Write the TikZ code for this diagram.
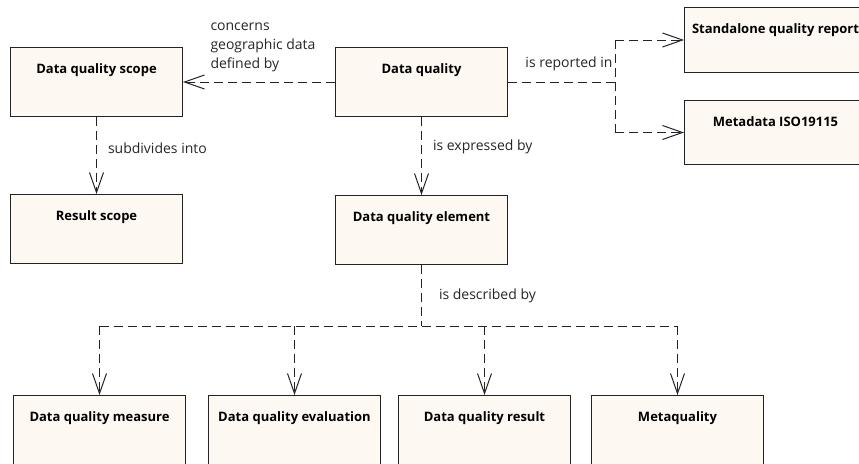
\documentclass[tikz,border=0pt]{standalone}
\usepackage{fontspec}
\setmainfont{Open Sans}
\usepackage{tikz}
\usepackage{xcolor}
\usetikzlibrary{positioning, arrows.meta}
\definecolor{clsfill}{RGB}{253,248,242}
\definecolor{clsline}{RGB}{35,35,35}
\tikzset{cls/.style={rectangle,draw=clsline,line width=1pt,fill=clsfill,anchor=north west,minimum width=172pt,inner xsep=0pt,inner ysep=0pt,text height=26pt,text depth=43pt,font=\bfseries\fontsize{13}{15}\selectfont},
  dashln/.style={draw=clsline,line width=1pt,dash pattern=on 9pt off 5pt},
  dep/.style={dashln,-{Straight Barb[length=20pt,width=14pt]}},
  lbl/.style={font=\fontsize{14}{19}\selectfont,inner sep=2pt,text=black!85}}

\begin{document}
\begin{tikzpicture}[x=1pt,y=-1pt]
      \useasboundingbox (0,0) rectangle (859,463);
      \clip (0,0) rectangle (859,463);
      \node[cls] (scope) at (10,47) {Data quality scope};
      \node[cls] (rscope) at (10,194) {Result scope};
      \node[cls] (dq) at (335,47) {Data quality};
      \node[cls] (elem) at (335,195) {Data quality element};
      \node[cls,minimum width=182pt,text depth=39pt] (sqr) at (684,7) {Standalone quality report};
      \node[cls,minimum width=182pt,text depth=38pt] (iso) at (684,100) {Metadata ISO19115};
      \node[cls,text depth=50pt] (meas) at (13,395) {Data quality measure};
      \node[cls,text depth=50pt] (eval) at (208,395) {Data quality evaluation};
      \node[cls,text depth=50pt] (res) at (398,395) {Data quality result};
      \node[cls,text depth=50pt] (mq) at (591,395) {Metaquality};

      \draw[dep] (dq.west) -- node[lbl,pos=1,above right,align=left,xshift=25pt,yshift=8pt] {concerns\\geographic data\\defined by} (scope.east);
      \draw[dep] (scope.south) -- node[lbl,pos=0.4,right,xshift=9pt] {subdivides into} (rscope.north);
      \draw[dep] (dq.south) -- node[lbl,pos=0.38,right,xshift=9pt] {is expressed by} (elem.north);

      \draw[dashln] (dq.east) -- node[lbl,pos=1,above left,yshift=9pt] {is reported in} ++(107,0) coordinate (rep);
      \draw[dashln] (rep |- sqr.west) -- (rep |- iso.west);
      \draw[dep] (rep |- sqr.west) -- (sqr.west);
      \draw[dep] (rep |- iso.west) -- (iso.west);

      \draw[dashln] (elem.south) -- node[lbl,right,xshift=15pt] {is described by} ++(0,61) coordinate (desc);
      \draw[dashln] (desc -| meas.north) -- (desc -| mq.north);
      \foreach \c in {meas,eval,res,mq}
        \draw[dep] (desc -| \c.north) -- (\c.north);
\end{tikzpicture}
\end{document}
